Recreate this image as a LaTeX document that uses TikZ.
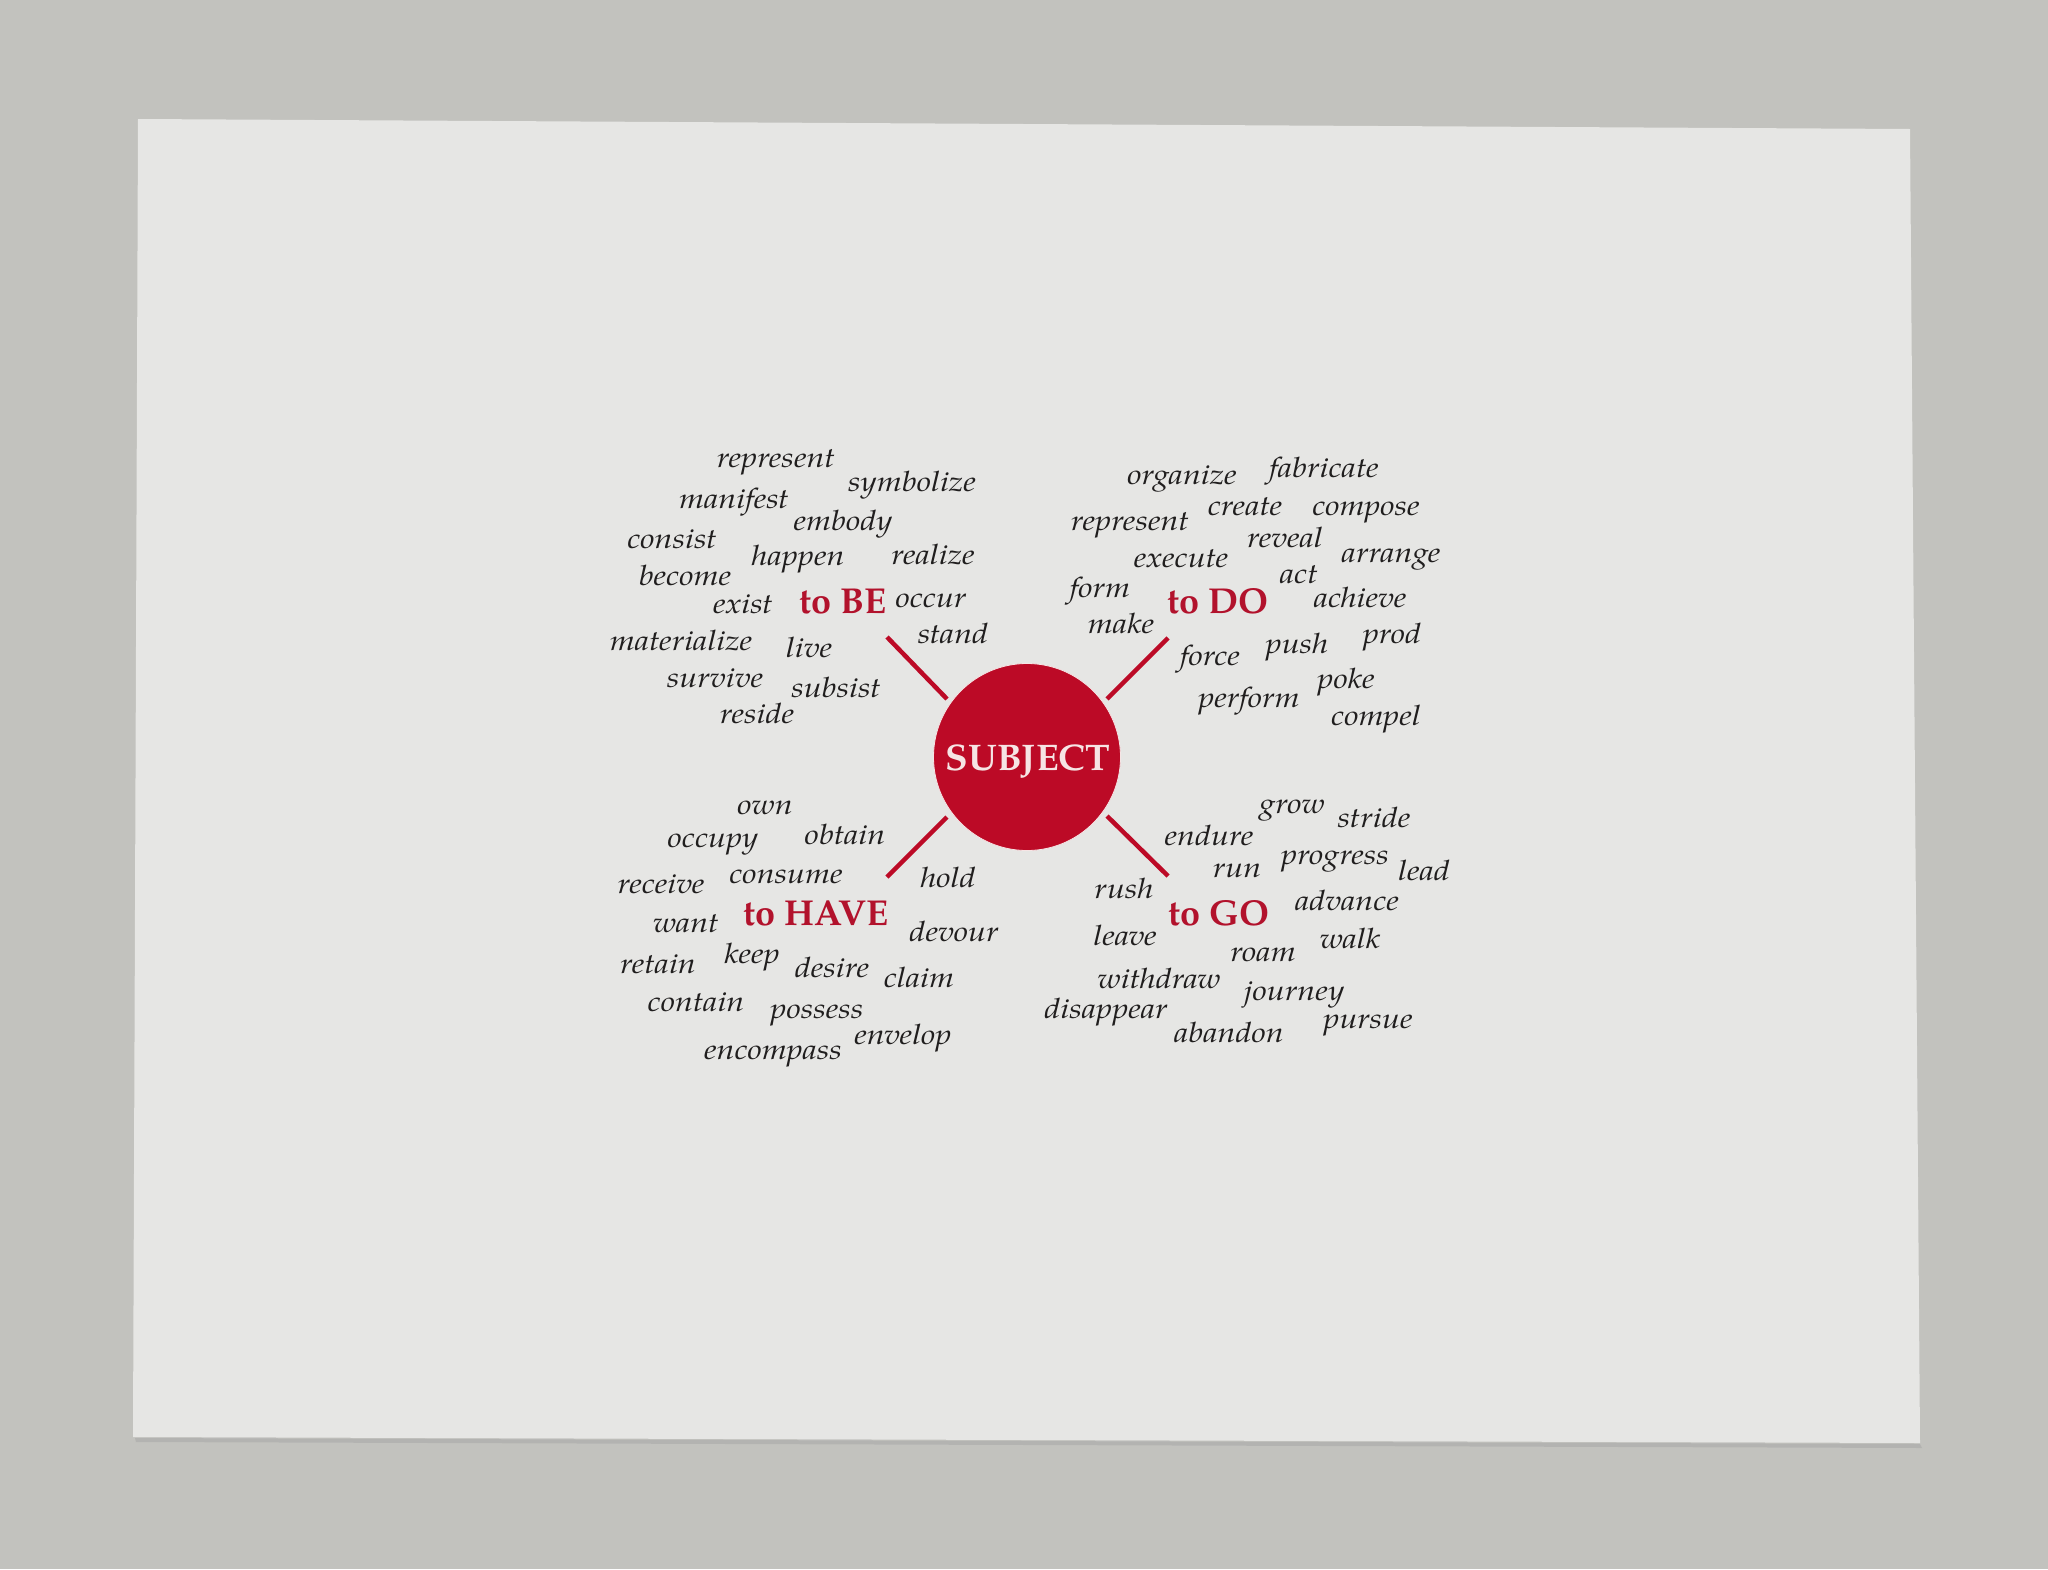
\documentclass[tikz,border=0pt]{standalone}
\usepackage{fontspec}
\setmainfont{TeX Gyre Pagella}
\newfontfamily\wordfont[FakeStretch=1.15]{TeX Gyre Pagella}
\definecolor{bgray}{RGB}{194,194,190}
\definecolor{paper}{RGB}{230,230,228}
\definecolor{ink}{RGB}{32,30,30}
\definecolor{sred}{RGB}{188,10,38}
\definecolor{tred}{RGB}{178,18,44}
\definecolor{pale}{RGB}{246,228,228}
\tikzset{
  word/.style={anchor=base, inner sep=0pt, text=ink, font=\wordfont\fontsize{28}{30}\selectfont\itshape},
  verb/.style={anchor=base, inner sep=0pt, text=tred, font=\fontsize{36}{40}\selectfont\bfseries},
  spoke/.style={draw=sred, line width=4.5pt},
}
\begin{document}
\begin{tikzpicture}[x=1pt,y=-1pt]
\useasboundingbox (0,0) rectangle (2048,1569);
\fill[bgray] (0,0) rectangle (2048,1569);
\fill[black!35,opacity=0.5] (135,1438) -- (1920,1444) -- (1922,1448) -- (136,1442) -- cycle;
\fill[paper] (138,119) -- (1910,129) -- (1920,1443) -- (133,1437) -- cycle;

% centre
\node[circle, fill=sred, draw=pale, line width=0.8pt, minimum size=187pt, inner sep=0pt] (subj) at (1027,757) {};
\node[anchor=base, inner sep=0pt, text=pale, font=\fontsize{37}{40}\selectfont\bfseries] (subjt) at (1028,770) {SUBJECT};

\coordinate (be1) at (887,637);  \coordinate (be2) at (947,699);
\coordinate (do1) at (1168,638); \coordinate (do2) at (1107,699);
\coordinate (ha1) at (887,877);  \coordinate (ha2) at (947,817);
\coordinate (go1) at (1168,876); \coordinate (go2) at (1107,816);
\draw[spoke] (be1) -- (be2);
\draw[spoke] (do1) -- (do2);
\draw[spoke] (ha1) -- (ha2);
\draw[spoke] (go1) -- (go2);

% to BE
\node[verb] (tobe) at (843,613) {to BE};
\node[word] (b1) at (776,467) {represent};
\node[word] (b2) at (912,491) {symbolize};
\node[word] (b3) at (734,508) {manifest};
\node[word] (b4) at (843,530) {embody};
\node[word] (b5) at (672,548) {consist};
\node[word] (b6) at (798,565) {happen};
\node[word] (b7) at (933,564) {realize};
\node[word] (b8) at (685,585) {become};
\node[word] (b9) at (743,613) {exist};
\node[word] (b10) at (931,607) {occur};
\node[word] (b11) at (681,650) {materialize};
\node[word] (b12) at (809,657) {live};
\node[word] (b13) at (953,643) {stand};
\node[word] (b14) at (715,687) {survive};
\node[word] (b15) at (836,697) {subsist};
\node[word] (b16) at (757,723) {reside};

% to DO
\node[verb] (todo) at (1218,613) {to DO};
\node[word] (d1) at (1182,484) {organize};
\node[word] (d2) at (1324,477) {fabricate};
\node[word] (d3) at (1245,515) {create};
\node[word] (d4) at (1366,515) {compose};
\node[word] (d5) at (1130,530) {represent};
\node[word] (d6) at (1285,547) {reveal};
\node[word] (d7) at (1181,567) {execute};
\node[word] (d8) at (1391,562) {arrange};
\node[word] (d9) at (1299,583) {act};
\node[word] (d10) at (1100,597) {form};
\node[word] (d11) at (1360,607) {achieve};
\node[word] (d12) at (1121,633) {make};
\node[word] (d13) at (1210,665) {force};
\node[word] (d14) at (1297,653) {push};
\node[word] (d15) at (1392,643) {prod};
\node[word] (d16) at (1249,707) {perform};
\node[word] (d17) at (1346,688) {poke};
\node[word] (d18) at (1376,725) {compel};

% to HAVE
\node[verb] (tohave) at (816,925) {to HAVE};
\node[word] (h1) at (765,814) {own};
\node[word] (h2) at (713,847) {occupy};
\node[word] (h3) at (845,844) {obtain};
\node[word] (h4) at (661,893) {receive};
\node[word] (h5) at (786,883) {consume};
\node[word] (h6) at (948,887) {hold};
\node[word] (h7) at (686,932) {want};
\node[word] (h8) at (954,941) {devour};
\node[word] (h9) at (658,973) {retain};
\node[word] (h10) at (752,963) {keep};
\node[word] (h11) at (832,977) {desire};
\node[word] (h12) at (919,987) {claim};
\node[word] (h13) at (696,1011) {contain};
\node[word] (h14) at (817,1018) {possess};
\node[word] (h15) at (903,1044) {envelop};
\node[word] (h16) at (773,1059) {encompass};

% to GO
\node[verb] (togo) at (1219,925) {to GO};
\node[word] (g1) at (1292,813) {grow};
\node[word] (g2) at (1374,827) {stride};
\node[word] (g3) at (1209,845) {endure};
\node[word] (g4) at (1237,877) {run};
\node[word] (g5) at (1335,864) {progress};
\node[word] (g6) at (1424,880) {lead};
\node[word] (g7) at (1124,898) {rush};
\node[word] (g8) at (1347,910) {advance};
\node[word] (g9) at (1125,945) {leave};
\node[word] (g10) at (1350,948) {walk};
\node[word] (g11) at (1263,961) {roam};
\node[word] (g12) at (1159,988) {withdraw};
\node[word] (g13) at (1294,1000) {journey};
\node[word] (g14) at (1106,1018) {disappear};
\node[word] (g15) at (1229,1042) {abandon};
\node[word] (g16) at (1368,1028) {pursue};
\end{tikzpicture}
\end{document}
